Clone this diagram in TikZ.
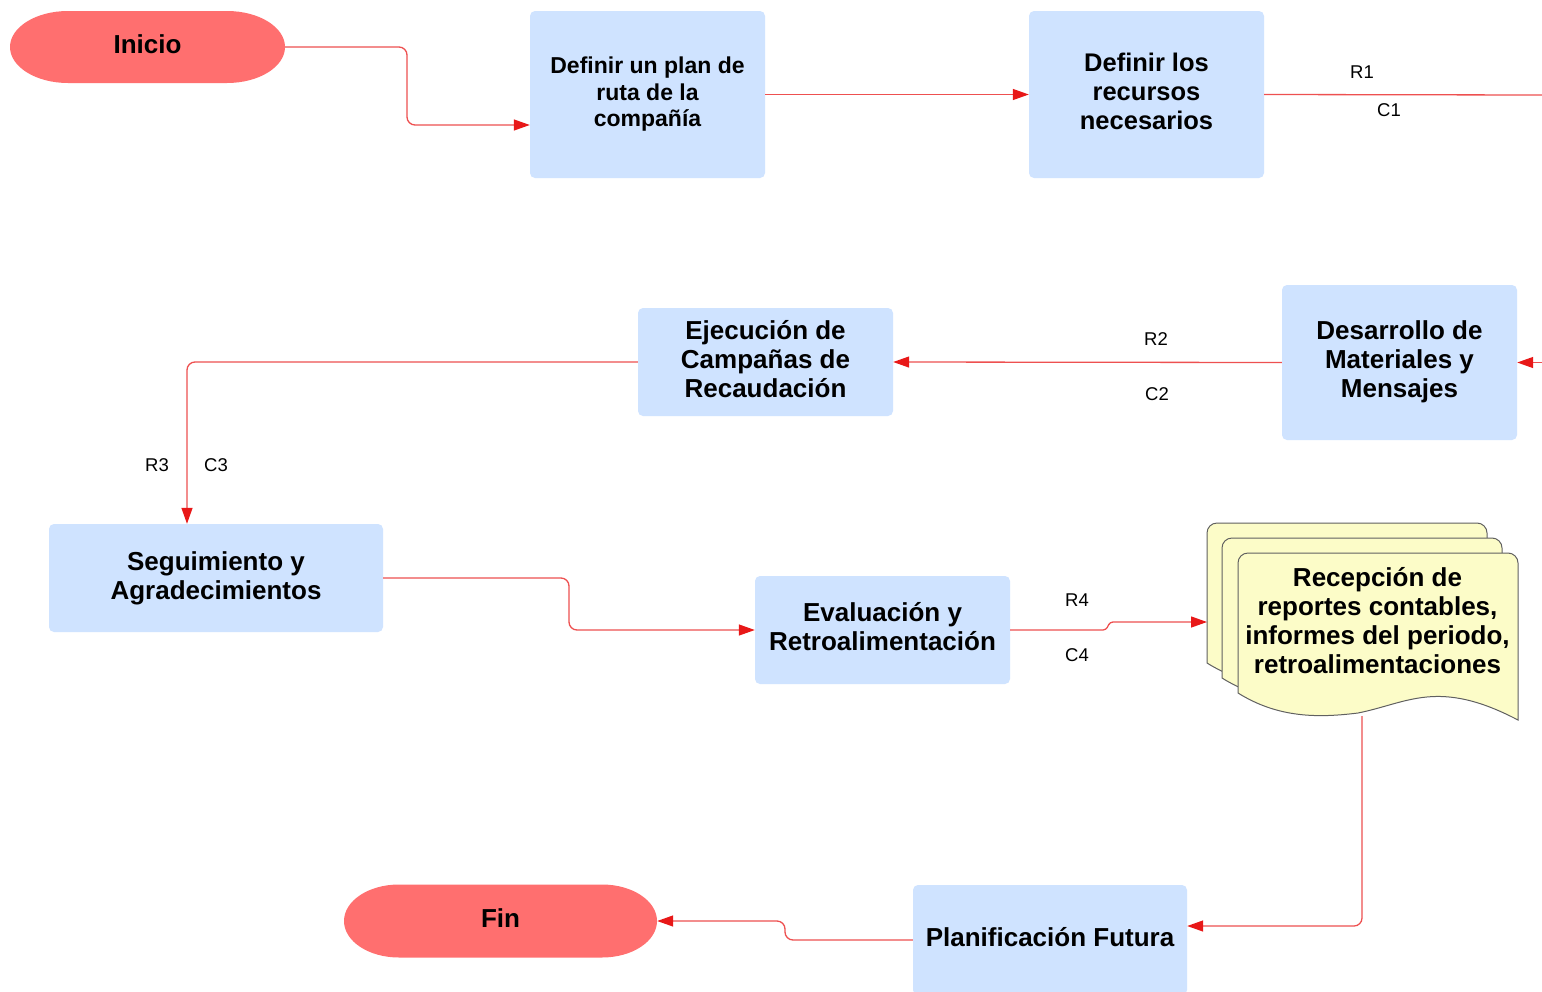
\documentclass[tikz,border=0pt]{standalone}
\usepackage{fontspec}
\setmainfont{Liberation Sans}
\usetikzlibrary{arrows.meta}
\definecolor{boxblue}{HTML}{CFE3FF}
\definecolor{capsulered}{HTML}{FF6F6F}
\definecolor{docyellow}{HTML}{FCFCC8}
\definecolor{docedge}{HTML}{606060}
\definecolor{linkred}{HTML}{EE5050}
\definecolor{tipred}{HTML}{E81818}
\tikzset{
  stepbox/.style={fill=boxblue, rounded corners=5pt, inner sep=0pt},
  boxtext/.style={inner sep=0pt, align=center, yshift=3pt,
    font=\fontsize{26}{29}\selectfont\bfseries},
  capsule/.style={inner sep=0pt},
  capsulefill/.style={fill=capsulered},
  docpage/.style={fill=docyellow, draw=docedge, line width=1pt},
  link/.style={draw=linkred, line width=1.3pt, rounded corners=8pt,
    -{Triangle[length=16pt,width=11pt,color=tipred]}},
  plainlink/.style={draw=linkred, line width=1.3pt},
  lbl/.style={font=\fontsize{18.5}{21}\selectfont, inner sep=0pt}
}
\begin{document}
\begin{tikzpicture}[x=1pt,y=-1pt]
\useasboundingbox (0,0) rectangle (1542,991);
\clip (0,0) rectangle (1542,991);
\fill[white] (0,0) rectangle (1542,991);

% terminals (capsules with elliptical ends)
\fill[capsulefill] (68,11) -- (227,11) .. controls (259,11) and (285,27.1) .. (285,47)
  .. controls (285,66.9) and (259,83) .. (227,83) -- (68,83)
  .. controls (36,83) and (10,66.9) .. (10,47) .. controls (10,27.1) and (36,11) .. (68,11) -- cycle;
\node[capsule, minimum width=275pt, minimum height=72pt] (inicio) at (147.5,47) {};
\node[boxtext] (inicioT) at (inicio.center) {Inicio};
\fill[capsulefill] (399,884.5) -- (602,884.5) .. controls (632.4,884.5) and (657,900.8) .. (657,921)
  .. controls (657,941.2) and (632.4,957.5) .. (602,957.5) -- (399,957.5)
  .. controls (368.6,957.5) and (344,941.2) .. (344,921) .. controls (344,900.8) and (368.6,884.5) .. (399,884.5) -- cycle;
\node[capsule, minimum width=313pt, minimum height=73pt] (fin) at (500.5,921) {};
\node[boxtext] (finT) at (fin.center) {Fin};

% process boxes
\node[stepbox, minimum width=235pt, minimum height=167pt] (box1) at (647.5,94.5) {};
\node[boxtext, yshift=-3pt, font=\fontsize{23}{26.5}\selectfont\bfseries] (box1T) at (box1.center) {Definir un plan de\\ruta de la\\compañía};
\node[stepbox, minimum width=235pt, minimum height=167pt] (box2) at (1146.5,94.5) {};
\node[boxtext, font=\fontsize{25.5}{29}\selectfont\bfseries] (box2T) at (box2.center) {Definir los\\recursos\\necesarios};
\node[stepbox, minimum width=235pt, minimum height=155pt] (box3) at (1399.5,362.5) {};
\node[boxtext, yshift=-2pt] (box3T) at (box3.center) {Desarrollo de\\Materiales y\\Mensajes};
\node[stepbox, minimum width=255pt, minimum height=108pt] (box4) at (765.5,362) {};
\node[boxtext] (box4T) at (box4.center) {Ejecución de\\Campañas de\\Recaudación};
\node[stepbox, minimum width=334pt, minimum height=108pt] (box5) at (216,578) {};
\node[boxtext, yshift=-3pt] (box5T) at (box5.center) {Seguimiento y\\Agradecimientos};
\node[stepbox, minimum width=255pt, minimum height=108pt] (box6) at (882.5,630) {};
\node[boxtext] (box6T) at (box6.center) {Evaluación y\\Retroalimentación};
\node[stepbox, minimum width=274pt, minimum height=110pt] (box7) at (1050,940) {};
\node[boxtext] (box7T) at (box7.center) {Planificación Futura};

% multi-document stack
\foreach \dx/\dy in {1207/523, 1222/538, 1238/553}{
  \draw[docpage, shift={(\dx,\dy)}] (0,140) [rounded corners=10pt] -- (0,0) -- (280,0) [sharp corners] -- (280,167)
    .. controls (200,125) and (170,150) .. (120,160)
    .. controls (80,165) and (40,165) .. (0,140) -- cycle;
}
\node[boxtext] (doc) at (1377.5,624)
  {Recepción de\\reportes contables,\\informes del periodo,\\retroalimentaciones};
\coordinate (docl) at (1207,622);
\coordinate (docb) at (1362,716);

% free ends at the right edge
\coordinate (edge1) at (1542,95);
\coordinate (edge2) at (1542,362.5);

% connectors
\draw[link] (inicio.east) -- (407,47) -- (407,125) -- (box1.west |- 0,125);
\draw[link] (box1.east) -- (box2.west);
\draw[plainlink] (box2.east) -- (edge1);
\draw[link] (edge2) -- (box3.east);
\draw[link] (box3.west) -- (box4.east);
\draw[link] (box4.west) -- (187,362) -- (box5.north -| 187,0);
\draw[link] (box5.east) -- (569,578) -- (569,630) -- (box6.west);
\draw[link, rounded corners=3pt] (box6.east) -- (1106,630) -- (1110,622) -- (docl);
\draw[link] (docb) -- (1362,926) -- (box7.east |- 0,926);
\draw[link] (box7.west) -- (785,940) -- (785,921) -- (fin.east);

% labels
\node[lbl] (r1) at (1362,72) {R1};
\node[lbl] (c1) at (1389,110) {C1};
\node[lbl] (r2) at (1156,339) {R2};
\node[lbl] (c2) at (1157,394) {C2};
\node[lbl] (r3) at (157,465) {R3};
\node[lbl] (c3) at (216,465) {C3};
\node[lbl] (r4) at (1077,600) {R4};
\node[lbl] (c4) at (1077,655) {C4};
\end{tikzpicture}
\end{document}
